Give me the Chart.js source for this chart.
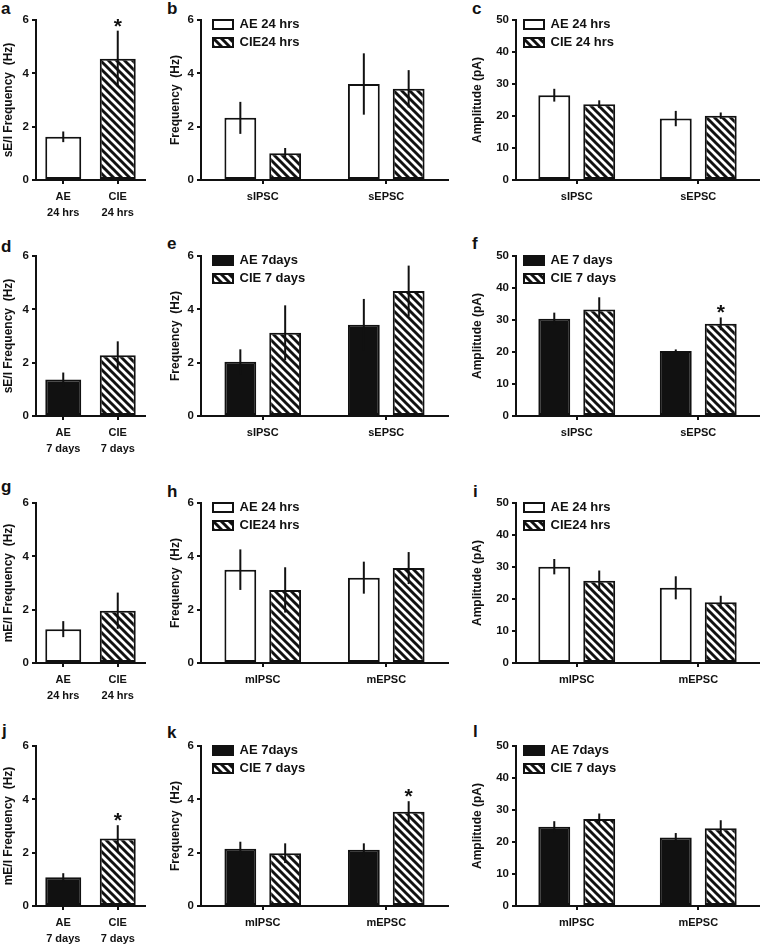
<!DOCTYPE html>
<html>
<head>
<meta charset="utf-8">
<script src="https://cdn.jsdelivr.net/npm/chart.js@4.4.0/dist/chart.umd.min.js"></script>
<style>
body { margin: 0; background: #fff; width: 761px; height: 949px; position: relative; overflow: hidden; font-family: "Liberation Sans", Arial, sans-serif; }
canvas { position: absolute; }
.letter { position: absolute; font-weight: bold; font-size: 17px; line-height: 17px; color: #111; }
</style>
</head>
<body>
<script>
// categories and tick labels
const spontCats = ["sIPSC", "sEPSC"];
const miniCats = ["mIPSC", "mEPSC"];
const hrsCats = [["AE", "24 hrs"], ["CIE", "24 hrs"]];
const daysCats = [["AE", "7 days"], ["CIE", "7 days"]];
const freqTicks = [0, 2, 4, 6];
const ampTicks = [0, 10, 20, 30, 40, 50];

// a - sE/I frequency, 24 hrs
const aMeans = [1.62, 4.55];
const aSem = [0.2, 1.05];
const aStar = [0, 1];
// b - spontaneous frequency, 24 hrs
const bLegend = ["AE 24 hrs", "CIE24 hrs"];
const bAE = [2.33, 3.6];
const bAESem = [0.6, 1.15];
const bCIE = [1.0, 3.42];
const bCIESem = [0.2, 0.7];
// c - spontaneous amplitude, 24 hrs
const cLegend = ["AE 24 hrs", "CIE 24 hrs"];
const cAE = [26.5, 19.2];
const cAESem = [2.0, 2.4];
const cCIE = [23.7, 20.1];
const cCIESem = [1.2, 1.0];
// d - sE/I frequency, 7 days
const dMeans = [1.37, 2.28];
const dSem = [0.26, 0.52];
// e - spontaneous frequency, 7 days
const eLegend = ["AE 7days", "CIE 7 days"];
const eAE = [2.03, 3.42];
const eAESem = [0.47, 0.97];
const eCIE = [3.12, 4.69];
const eCIESem = [1.03, 0.95];
// f - spontaneous amplitude, 7 days
const fLegend = ["AE 7 days", "CIE 7 days"];
const fAE = [30.4, 20.3];
const fAESem = [1.9, 0.5];
const fCIE = [33.3, 28.8];
const fCIESem = [3.8, 2.0];
const fStar = [0, 1];
// g - mE/I frequency, 24 hrs
const gMeans = [1.27, 1.96];
const gSem = [0.3, 0.68];
// h - miniature frequency, 24 hrs
const hLegend = ["AE 24 hrs", "CIE24 hrs"];
const hAE = [3.5, 3.2];
const hAESem = [0.76, 0.6];
const hCIE = [2.74, 3.56];
const hCIESem = [0.85, 0.6];
// i - miniature amplitude, 24 hrs
const iLegend = ["AE 24 hrs", "CIE24 hrs"];
const iAE = [30.1, 23.5];
const iAESem = [2.4, 3.6];
const iCIE = [25.7, 19.0];
const iCIESem = [3.2, 2.0];
// j - mE/I frequency, 7 days
const jMeans = [1.08, 2.53];
const jSem = [0.15, 0.5];
const jStar = [0, 1];
// k - miniature frequency, 7 days
const kLegend = ["AE 7days", "CIE 7 days"];
const kAE = [2.15, 2.11];
const kAESem = [0.26, 0.24];
const kCIE = [1.98, 3.53];
const kCIESem = [0.37, 0.4];
const kStar = [0, 1];
// l - miniature amplitude, 7 days
const lLegend = ["AE 7days", "CIE 7 days"];
const lAE = [24.8, 21.4];
const lAESem = [1.7, 1.4];
const lCIE = [27.2, 24.3];
const lCIESem = [1.7, 2.5];

const INK = "#111";
const WHITE = "#fff";
Chart.defaults.font.family = '"Liberation Sans", Arial, sans-serif';
Chart.defaults.font.weight = "bold";
Chart.defaults.color = INK;

function hatch() {
    const p = 8, c = document.createElement("canvas");
    c.width = c.height = p;
    const x = c.getContext("2d");
    x.fillStyle = WHITE;
    x.fillRect(0, 0, p, p);
    x.strokeStyle = INK;
    x.lineWidth = 2.9;
    x.beginPath();
    for (const k of [-p, 0, p]) { x.moveTo(k - 1, -1); x.lineTo(k + p + 1, p + 1); }
    x.stroke();
    return x.createPattern(c, "repeat");
}
const HATCH = hatch();

// layout of the grid
const cols = [
    {left: 0, width: 150, yW: 36, padR: 5, cat: 0.8, bar: 0.825, dx: 0},
    {left: 167, width: 285, yW: 34, padR: 4, cat: 0.726, bar: 0.71, dx: 7},
    {left: 469, width: 292, yW: 47, padR: 2, cat: 0.74, bar: 0.71, dx: 3}
];
const areaTops = [20, 256, 503, 746];

const letters = [
    ["a", 1, 0], ["b", 167, 0], ["c", 472, 0],
    ["d", 1, 238], ["e", 167, 235], ["f", 472, 235],
    ["g", 1, 478], ["h", 167, 483], ["i", 473, 483],
    ["j", 2, 722], ["k", 167, 724], ["l", 473, 723]
];

function single(means, sem, first, star) {
    return [{data: means, sem: sem, star: star, backgroundColor: [first, HATCH]}];
}
function pair(legend, ae, aeSem, cie, cieSem, aeColor, cieStar) {
    return [
        {label: legend[0], data: ae, sem: aeSem, backgroundColor: aeColor},
        {label: legend[1], data: cie, sem: cieSem, star: cieStar, backgroundColor: HATCH}
    ];
}

const panels = [
    {row: 0, col: 0, labels: hrsCats, ticks: freqTicks, title: "sE/I Frequency  (Hz)", sets: single(aMeans, aSem, WHITE, aStar)},
    {row: 0, col: 1, labels: spontCats, ticks: freqTicks, title: "Frequency  (Hz)", sets: pair(bLegend, bAE, bAESem, bCIE, bCIESem, WHITE)},
    {row: 0, col: 2, labels: spontCats, ticks: ampTicks, title: "Amplitude (pA)", sets: pair(cLegend, cAE, cAESem, cCIE, cCIESem, WHITE)},
    {row: 1, col: 0, labels: daysCats, ticks: freqTicks, title: "sE/I Frequency  (Hz)", sets: single(dMeans, dSem, INK)},
    {row: 1, col: 1, labels: spontCats, ticks: freqTicks, title: "Frequency  (Hz)", sets: pair(eLegend, eAE, eAESem, eCIE, eCIESem, INK)},
    {row: 1, col: 2, labels: spontCats, ticks: ampTicks, title: "Amplitude (pA)", sets: pair(fLegend, fAE, fAESem, fCIE, fCIESem, INK, fStar)},
    {row: 2, col: 0, labels: hrsCats, ticks: freqTicks, title: "mE/I Frequency  (Hz)", sets: single(gMeans, gSem, WHITE)},
    {row: 2, col: 1, labels: miniCats, ticks: freqTicks, title: "Frequency  (Hz)", sets: pair(hLegend, hAE, hAESem, hCIE, hCIESem, WHITE)},
    {row: 2, col: 2, labels: miniCats, ticks: ampTicks, title: "Amplitude (pA)", sets: pair(iLegend, iAE, iAESem, iCIE, iCIESem, WHITE)},
    {row: 3, col: 0, labels: daysCats, ticks: freqTicks, title: "mE/I Frequency  (Hz)", sets: single(jMeans, jSem, INK, jStar)},
    {row: 3, col: 1, labels: miniCats, ticks: freqTicks, title: "Frequency  (Hz)", sets: pair(kLegend, kAE, kAESem, kCIE, kCIESem, INK, kStar)},
    {row: 3, col: 2, labels: miniCats, ticks: ampTicks, title: "Amplitude (pA)", sets: pair(lLegend, lAE, lAESem, lCIE, lCIESem, INK)}
];

// SEM lines and significance stars
const errorBars = {
    id: "errorBars",
    afterDatasetsDraw(chart) {
        const ctx = chart.ctx, y = chart.scales.y;
        chart.data.datasets.forEach((ds, i) => {
            chart.getDatasetMeta(i).data.forEach((bar, j) => {
                const top = y.getPixelForValue(ds.data[j] + ds.sem[j]);
                const bot = y.getPixelForValue(ds.data[j] - ds.sem[j]);
                ctx.save();
                ctx.strokeStyle = INK;
                ctx.lineWidth = 2;
                ctx.beginPath();
                ctx.moveTo(bar.x, bot);
                ctx.lineTo(bar.x, top);
                ctx.stroke();
                if (ds.star && ds.star[j]) {
                    ctx.fillStyle = INK;
                    ctx.font = 'bold 21px "Liberation Sans", Arial, sans-serif';
                    ctx.textAlign = "center";
                    ctx.textBaseline = "alphabetic";
                    ctx.fillText("*", bar.x, top + 2);
                }
                ctx.restore();
            });
        });
    }
};

// push the in-plot legend to where the reference has it
const legendNudge = {
    id: "legendNudge",
    afterLayout(chart, args, opts) {
        if (chart.legend && chart.options.plugins.legend.display) {
            chart.legend.left += opts.dx || 0;
            chart.legend.top += opts.dy || 0;
        }
    }
};

letters.forEach(([t, x, y]) => {
    const d = document.createElement("div");
    d.className = "letter";
    d.textContent = t;
    d.style.left = x + "px";
    d.style.top = y + "px";
    document.body.appendChild(d);
});

panels.forEach(p => {
    const col = cols[p.col];
    const cv = document.createElement("canvas");
    cv.width = col.width;
    cv.height = 220;
    cv.style.left = col.left + "px";
    cv.style.top = (areaTops[p.row] - 12) + "px";
    document.body.appendChild(cv);

    new Chart(cv, {
        type: "bar",
        data: {labels: p.labels, datasets: p.sets.map(s => Object.assign({borderColor: INK, borderWidth: 2, borderSkipped: false}, s))},
        options: {
            responsive: false,
            animation: false,
            layout: {padding: {top: 12, right: col.padR, bottom: 2, left: 0}},
            datasets: {bar: {categoryPercentage: col.cat, barPercentage: col.bar}},
            plugins: {
                tooltip: {enabled: false},
                legend: {
                    display: p.col > 0,
                    position: "chartArea",
                    align: "start",
                    labels: {boxWidth: 20, boxHeight: 9, padding: 5, color: INK, font: {size: 13, weight: "bold"}}
                },
                legendNudge: {dx: col.dx, dy: 5}
            },
            scales: {
                x: {
                    grid: {offset: false, drawOnChartArea: false, drawTicks: true, tickLength: 4, color: INK, lineWidth: 2},
                    border: {color: INK, width: 2},
                    ticks: {color: INK, padding: 5, maxRotation: 0, autoSkip: false, font: {size: 11, weight: "bold", lineHeight: 1.45}},
                    afterFit: s => { s.height = 46; }
                },
                y: {
                    min: 0,
                    max: p.ticks[p.ticks.length - 1],
                    afterBuildTicks: s => { s.ticks = p.ticks.map(v => ({value: v})); },
                    grid: {drawOnChartArea: false, drawTicks: true, tickLength: 4, color: INK, lineWidth: 2},
                    border: {color: INK, width: 2},
                    ticks: {color: INK, padding: 3, font: {size: 11.5, weight: "bold"}},
                    title: {display: true, text: p.title, color: INK, padding: {top: 1, bottom: 0}, font: {size: 12, weight: "bold"}},
                    afterFit: s => { s.width = col.yW; }
                }
            }
        },
        plugins: [errorBars, legendNudge]
    });
});
</script>
</body>
</html>
